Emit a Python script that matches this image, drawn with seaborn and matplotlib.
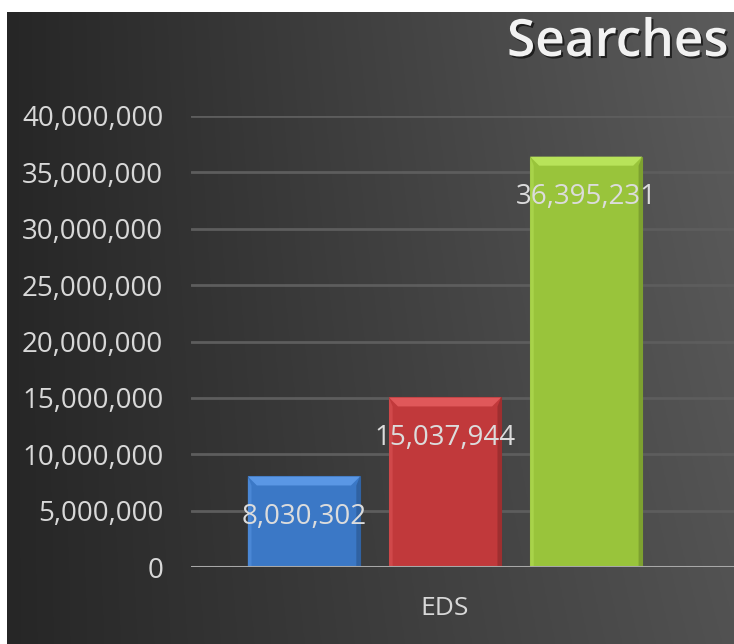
import numpy as np
import pandas as pd
import matplotlib
matplotlib.use("Agg")
import matplotlib.pyplot as plt
import matplotlib.patheffects as pe
from matplotlib.patches import Polygon
from matplotlib.ticker import FuncFormatter
import seaborn as sns

# data
category = ["EDS", "EDS", "EDS"]
series = ["a", "b", "c"]
searches = [8030302, 15037944, 36395231]
bar_colors = ["#3b78c6", "#c1393b", "#99c43b"]
y_ticks = [0, 5000000, 10000000, 15000000, 20000000, 25000000, 30000000, 35000000, 40000000]

df = pd.DataFrame({"cat": category, "series": series, "searches": searches})

sns.set_theme(style="dark")
plt.rcParams["font.family"] = ["Open Sans", "DejaVu Sans"]

W, H = 734, 644
fig = plt.figure(figsize=(W / 100, H / 100), dpi=100)
fig.patch.set_facecolor("white")

# dark gradient background (white border at top and left)
bg = fig.add_axes([7 / W, 0, 1 - 7 / W, (H - 12) / H], zorder=-5)
gx, gy = np.meshgrid(np.linspace(0, 1, 300), np.linspace(0, 1, 300))
grad = 0.15 + 0.17 * gx + 0.04 * (1 - gy) * gx
bg.imshow(np.dstack([grad, grad, grad]), aspect="auto", extent=[0, 1, 0, 1], origin="upper")
bg.set_axis_off()

ax = fig.add_axes([191 / W, (H - 567) / H, 1 - 191 / W, (567 - 116) / H])
ax.set_facecolor("none")

sns.barplot(data=df, x="cat", y="searches", hue="series", palette=bar_colors,
            width=0.8, gap=0.206, saturation=1, legend=False, ax=ax, zorder=3)

ax.set_ylim(0, 40000000)
ax.set_xlim(-0.480, 0.546)
ax.set_yticks(y_ticks)
ax.yaxis.set_major_formatter(FuncFormatter(lambda v, p: f"{int(v):,}"))
ax.set_xlabel("")
ax.set_ylabel("")
ax.tick_params(axis="y", length=0, pad=20, labelsize=20, labelcolor="#d8d8d8")
ax.tick_params(axis="x", length=0, pad=21, labelsize=19, labelcolor="#d8d8d8")
ax.grid(axis="y", color="#5d5d5d", linewidth=2.0, zorder=1)
ax.grid(axis="x", visible=False)
for s in ax.spines.values():
    s.set_visible(False)
ax.axhline(0, color="#a8a8a8", linewidth=2.2, zorder=4)

# little bevel on each bar, from the bar patches themselves
px_x = (0.546 + 0.480) / (W - 191)
px_y = 40000000 / (567 - 116)
for p in ax.patches:
    x0, y0 = p.get_x(), p.get_y()
    w, h = p.get_width(), p.get_height()
    bx, by = 9 * px_x, 9 * px_y
    c = np.array(matplotlib.colors.to_rgb(p.get_facecolor()))
    light = np.clip(c + 0.12, 0, 1)
    dark = c * 0.82
    top = Polygon([(x0, y0 + h), (x0 + w, y0 + h), (x0 + w - bx, y0 + h - by), (x0 + bx, y0 + h - by)],
                  closed=True, facecolor=light, edgecolor="none", zorder=3.5)
    left = Polygon([(x0, y0), (x0, y0 + h), (x0 + bx * 0.4, y0 + h - by), (x0 + bx * 0.4, y0)],
                   closed=True, facecolor=np.clip(c + 0.06, 0, 1), edgecolor="none", zorder=3.5)
    right = Polygon([(x0 + w, y0), (x0 + w, y0 + h), (x0 + w - bx * 0.4, y0 + h - by), (x0 + w - bx * 0.4, y0)],
                    closed=True, facecolor=dark, edgecolor="none", zorder=3.5)
    for poly in (top, left, right):
        ax.add_patch(poly)
    p.set_edgecolor(dark)
    p.set_linewidth(0.8)

# value labels inside the bars
for p, v in zip(ax.patches[:3], searches):
    ax.annotate(f"{v:,}", (p.get_x() + p.get_width() / 2, p.get_height()),
                xytext=(0, -29), textcoords="offset points", ha="center", va="center",
                fontsize=20, color="#dcdcdc", zorder=6)

fig.text(507 / W, 1 - 43 / H, "Searches", ha="left", va="center", fontsize=37,
         fontweight="semibold", color="#f2f2f2",
         path_effects=[pe.withSimplePatchShadow(offset=(1.5, -1.5), shadow_rgbFace="black", alpha=0.6)])

fig.savefig("out.png", dpi=100)
